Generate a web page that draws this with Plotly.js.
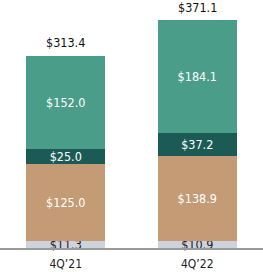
<!DOCTYPE html>
<html><head><meta charset="utf-8">
<script src="https://cdn.plot.ly/plotly-3.0.1.min.js"></script>
<style>html,body{margin:0;padding:0;background:#fff}#chart{width:263px;height:272px}</style>
</head><body><div id="chart"></div>
<script>
const categories = ["4Q\u201921", "4Q\u201922"];
const seg1 = [11.3, 10.9];
const seg2 = [125.0, 138.9];
const seg3 = [25.0, 37.2];
const seg4 = [152.0, 184.1];
const totals = [313.4, 371.1];

const FONT = "DejaVu Sans Condensed, sans-serif";
function tr(vals, color, txtColor) {
  return {
    type: "bar", x: categories, y: vals,
    marker: {color: color, line: {width: 0}},
    text: vals.map(v => "$" + v.toFixed(1)),
    textposition: "inside", insidetextanchor: "middle",
    textfont: {family: FONT, size: 12.5, color: txtColor},
    hoverinfo: "skip", cliponaxis: false
  };
}
const data = [
  tr(seg1, "#cdd3dd", "#222222"),
  tr(seg2, "#c49b74", "#ffffff"),
  tr(seg3, "#1c5b55", "#ffffff"),
  tr(seg4, "#4a9e89", "#ffffff")
];
const annotations = categories.map((c, i) => ({
  x: c, y: totals[i], xref: "x", yref: "y",
  text: "$" + totals[i].toFixed(1), showarrow: false,
  yanchor: "bottom", yshift: 3,
  font: {family: FONT, size: 12.5, color: "#111111"}
}));
const layout = {
  width: 263, height: 272,
  margin: {l: 0, r: 0, t: 20, b: 24},
  barmode: "stack", bargap: 0.4, showlegend: false,
  paper_bgcolor: "#ffffff", plot_bgcolor: "#ffffff",
  uniformtext: {mode: "show", minsize: 12.5},
  xaxis: {
    showline: true, linecolor: "#9a9a9a", linewidth: 1.5,
    ticks: "outside", ticklen: 4, tickcolor: "rgba(0,0,0,0)",
    tickfont: {family: FONT, size: 12, color: "#222222"},
    showgrid: false, zeroline: false, automargin: false, fixedrange: true
  },
  yaxis: {
    range: [0, 371.1], visible: false, showgrid: false, zeroline: false, fixedrange: true
  },
  annotations: annotations
};
Plotly.newPlot("chart", data, layout, {displayModeBar: false, staticPlot: true});
</script></body></html>
